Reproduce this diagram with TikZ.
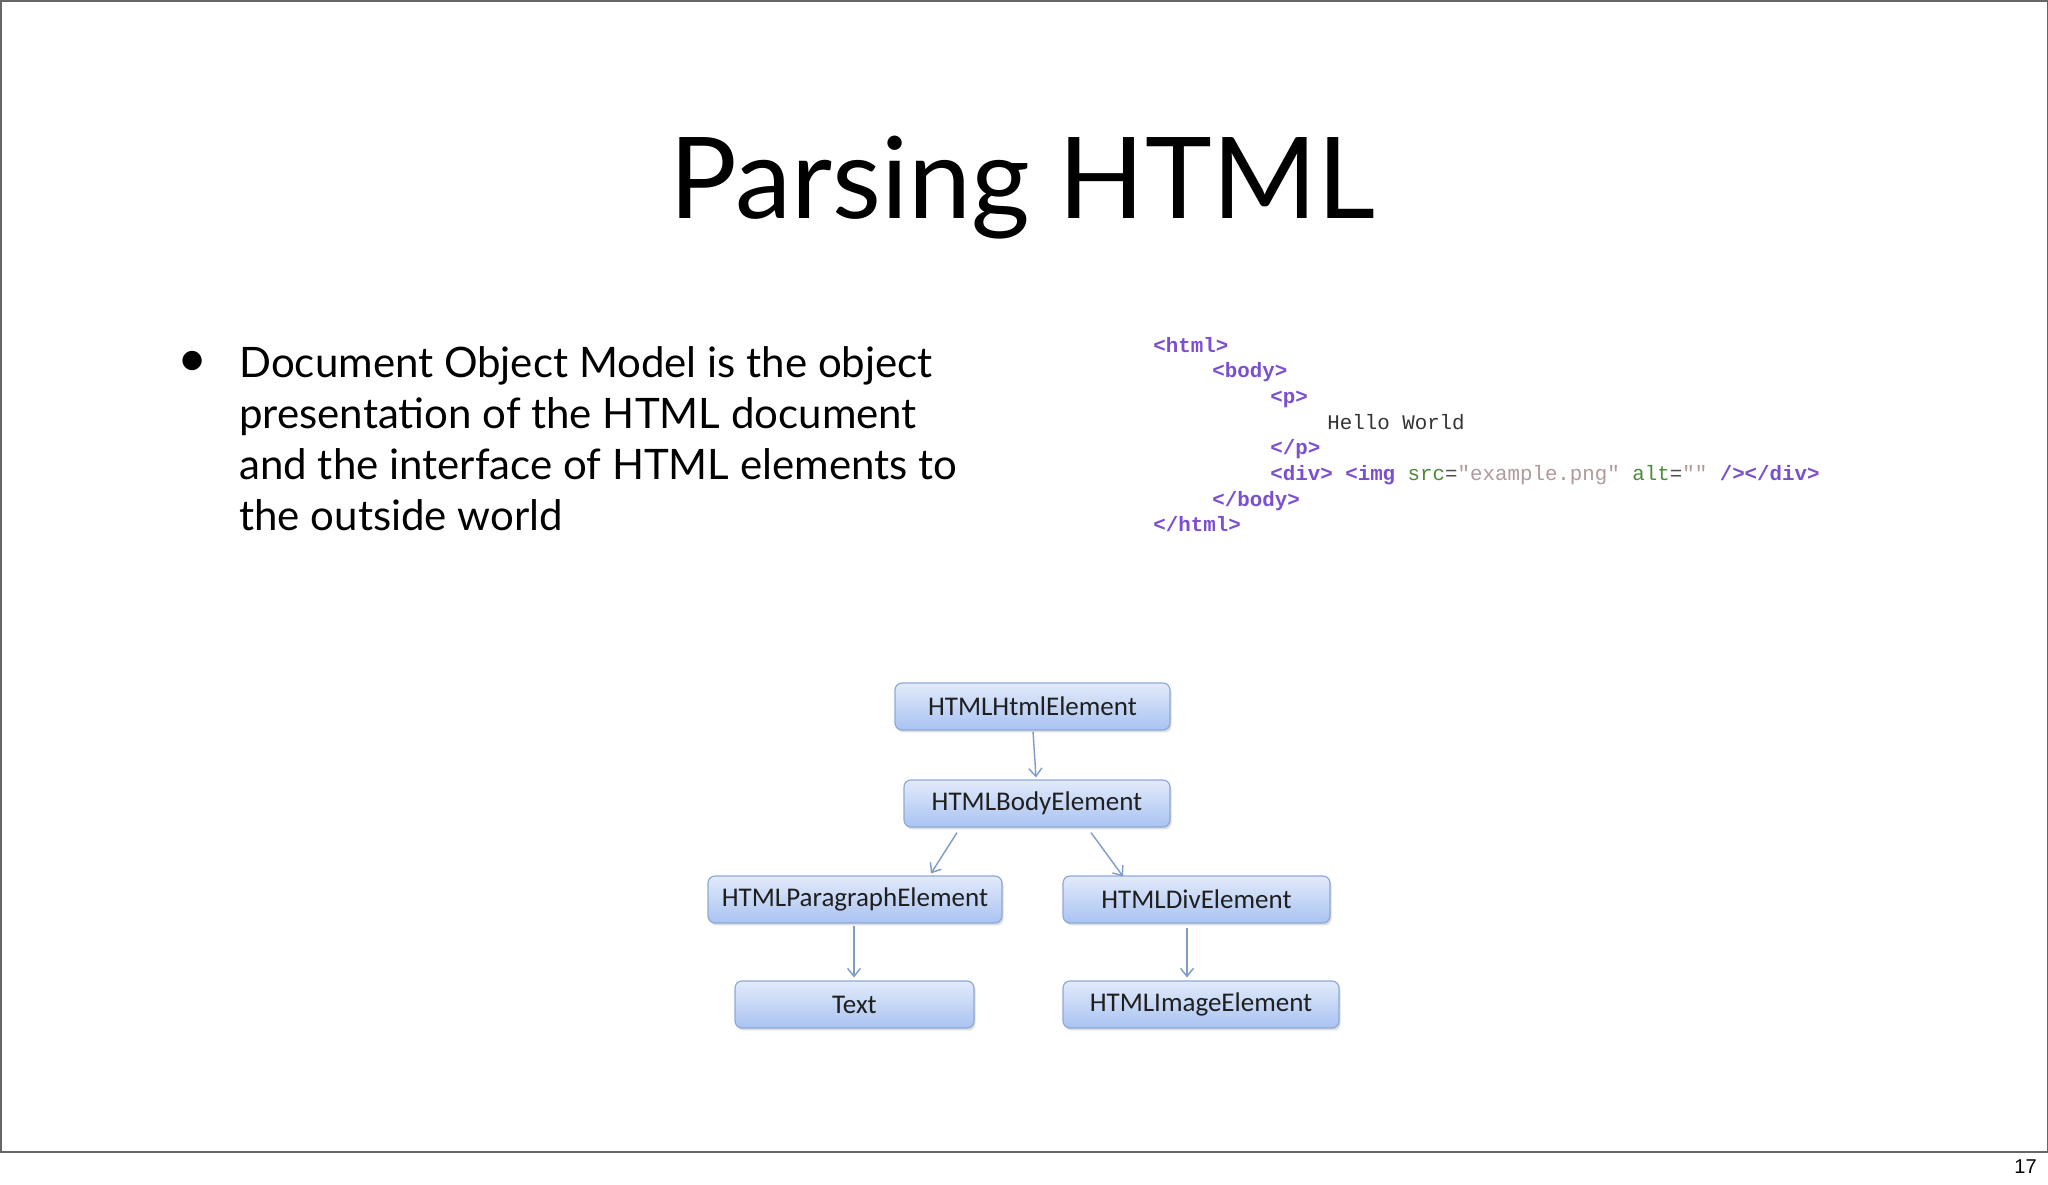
\documentclass[tikz,border=0pt]{standalone}
\usepackage{fontspec}
\usetikzlibrary{arrows.meta,shadows,calc}
\setmainfont{Lato}
\newfontfamily\boxfont{Carlito}
\newfontfamily\codefont{Liberation Mono}[WordSpace={1,0,0}]
\newfontfamily\numfont{Liberation Sans}
\definecolor{tagc}{HTML}{7A4FD2}
\definecolor{attrc}{HTML}{4E8A3A}
\definecolor{valc}{HTML}{B09A9A}
\definecolor{boxtop}{HTML}{E2EAFA}
\definecolor{boxbot}{HTML}{A9C3F2}
\definecolor{boxline}{HTML}{8EA9D6}
\definecolor{arrc}{HTML}{7D9CC8}
\tikzset{
  elbox/.style={draw=boxline, line width=0.6pt, rounded corners=3.5pt,
    top color=boxtop, bottom color=boxbot, inner sep=0pt, minimum height=23.5pt,
    font=\boxfont\fontsize{13.5}{15}\selectfont, text=black!88,
    drop shadow={opacity=0.25, shadow xshift=0.8pt, shadow yshift=-1.2pt}},
  conn/.style={draw=arrc, line width=0.7pt, -{Straight Barb[length=4pt,width=6.5pt]}},
  code/.style={anchor=base west, inner sep=0pt, font=\codefont\fontsize{10.4}{12}\selectfont},
  bul/.style={anchor=base west, inner sep=0pt, font=\fontsize{21}{25}\selectfont}
}
\begin{document}
\begin{tikzpicture}[x=0.5pt,y=-0.5pt]
\useasboundingbox (0,0) rectangle (2048,1184);
\fill[white] (0,0) rectangle (2048,1184);
\draw[black!60, line width=1pt] (0.5,0.5) rectangle (2047.5,1152);
\node[anchor=base east, inner sep=0pt, font=\numfont\fontsize{10}{11}\selectfont] (pg) at (2037,1173) {17};
% title
\node[anchor=base, inner sep=0pt, font=\fontsize{56.5}{66}\selectfont] (title) at (1022,218) {Parsing HTML};
% bullet
\node[anchor=center, inner sep=0pt, font=\fontsize{26}{26}\selectfont] (dot) at (193,364) {•};
\node[bul] (l1) at (239,377) {Document Object Model is the object};
\node[bul] (l2) at (239,428) {presentation of the HTML document};
\node[bul] (l3) at (239,479) {and the interface of HTML elements to};
\node[bul] (l4) at (239,530) {the outside world};
% code
\node[code, text=tagc] (c1) at (1153,352) {\bfseries <html>};
\node[code, text=tagc] (c2) at (1212,377) {\bfseries <body>};
\node[code, text=tagc] (c3) at (1270,403) {\bfseries <p>};
\node[code, text=black!80] (c4) at (1327,429) {Hello World};
\node[code, text=tagc] (c5) at (1270,454) {\bfseries </p>};
\node[code] (c6) at (1270,480) {{\color{tagc}\bfseries <div> <img}\ {\color{attrc}src}{\color{black!70}=}{\color{valc}"example.png"}\ {\color{attrc}alt}{\color{black!70}=}{\color{valc}""}\ {\color{tagc}\bfseries /></div>}};
\node[code, text=tagc] (c7) at (1212,506) {\bfseries </body>};
\node[code, text=tagc] (c8) at (1153,531) {\bfseries </html>};
% tree
\node[elbox, minimum width=137.5pt] (html) at (1032.5,706.5) {HTMLHtmlElement};
\node[elbox, minimum width=133pt] (body) at (1037,803.5) {HTMLBodyElement};
\node[elbox, minimum width=147pt] (para) at (855,899.5) {HTMLParagraphElement};
\node[elbox, minimum width=133.5pt] (div) at (1196.5,899.5) {HTMLDivElement};
\node[elbox, minimum width=119.5pt] (txt) at (854.5,1004.5) {Text};
\node[elbox, minimum width=138pt] (img) at (1201,1004.5) {HTMLImageElement};
\draw[conn] ($(html.south)+(0.5,1)$) -- ($(body.north)+(-1,-2)$);
\draw[conn] ($(body.south)+(-80,5)$) -- ($(para.north)+(76,-2)$);
\draw[conn] ($(body.south)+(54,5)$) -- ($(div.north)+(-73.5,1)$);
\draw[conn] ($(para.south)+(-1,2)$) -- ($(txt.north)+(-0.5,-3)$);
\draw[conn] ($(div.south)+(-9.5,4)$) -- ($(img.north)+(-14,-3)$);
\end{tikzpicture}
\end{document}
